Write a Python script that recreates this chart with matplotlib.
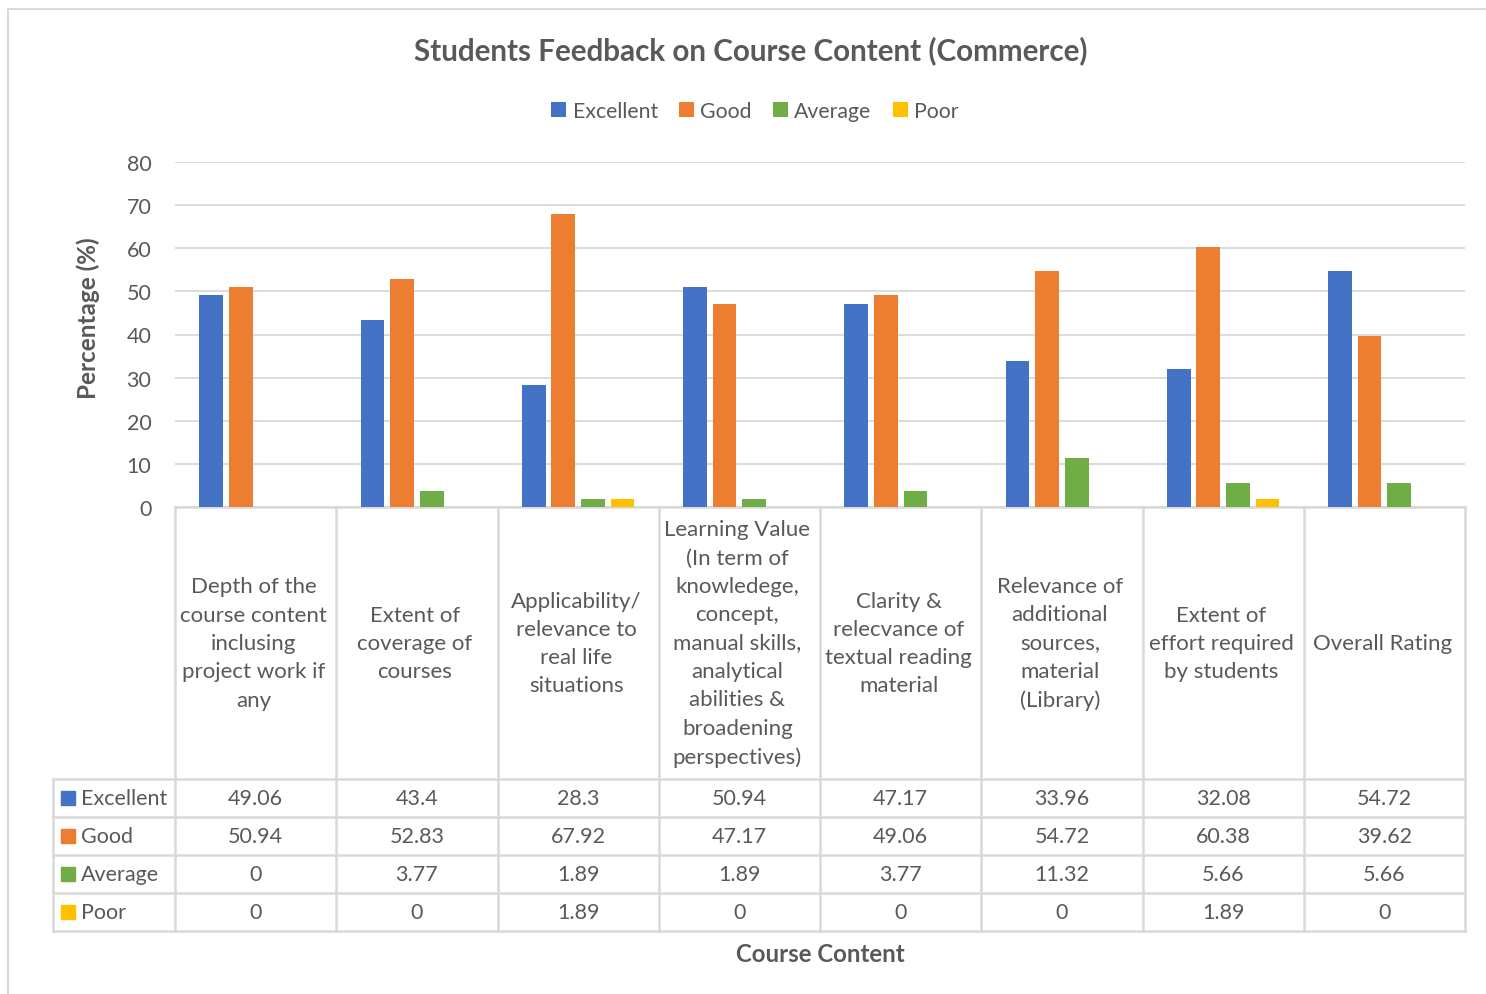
import numpy as np
import matplotlib
matplotlib.use("Agg")
import matplotlib.pyplot as plt
from matplotlib.patches import Rectangle

plt.rcParams["font.family"] = ["Lato", "DejaVu Sans"]

categories = [
    "Depth of the\ncourse content\ninclusing\nproject work if\nany",
    "Extent of\ncoverage of\ncourses",
    "Applicability/\nrelevance to\nreal life\nsituations",
    "Learning Value\n(In term of\nknowledege,\nconcept,\nmanual skills,\nanalytical\nabilities &\nbroadening\nperspectives)",
    "Clarity &\nrelecvance of\ntextual reading\nmaterial",
    "Relevance of\nadditional\nsources,\nmaterial\n(Library)",
    "Extent of\neffort required\nby students",
    "Overall Rating",
]
series_names = ["Excellent", "Good", "Average", "Poor"]
excellent = [49.06, 43.4, 28.3, 50.94, 47.17, 33.96, 32.08, 54.72]
good = [50.94, 52.83, 67.92, 47.17, 49.06, 54.72, 60.38, 39.62]
average = [0, 3.77, 1.89, 1.89, 3.77, 11.32, 5.66, 5.66]
poor = [0, 0, 1.89, 0, 0, 0, 1.89, 0]
series = [excellent, good, average, poor]
yticks = [0, 10, 20, 30, 40, 50, 60, 70, 80]

COLORS = ["#4472C4", "#ED7D31", "#70AD47", "#FFC000"]
TXT = "#595959"
GRID = "#D9D9D9"

W, H = 1486, 995
fig = plt.figure(figsize=(W / 100, H / 100), dpi=100)

# pixel layout
X0, X1 = 175, 1465          # plot area left/right
YTOP, Y0 = 163, 508         # y=80 and y=0
ROWS = [780, 818, 856, 894, 932]
LEFT = 53

# overlay axes in pixel coords for table + border
tab = fig.add_axes([0, 0, 1, 1])
tab.set_xlim(0, W); tab.set_ylim(H, 0); tab.axis("off")

ax = fig.add_axes([X0 / W, 1 - Y0 / H, (X1 - X0) / W, (Y0 - YTOP) / H])
ax.set_facecolor("none")

n = len(categories)
x = np.arange(n)
offsets = [-0.275, -0.092, 0.092, 0.275]
bw = 0.148
for vals, off, c, name in zip(series, offsets, COLORS, series_names):
    ax.bar(x + off, vals, bw, color=c, label=name, zorder=3)

ax.set_xlim(-0.5, n - 0.5)
ax.set_ylim(0, 80)
ax.set_yticks(yticks)
ax.set_yticklabels([str(t) for t in yticks], fontsize=15.5, color=TXT)
ax.set_xticks([])
ax.tick_params(axis="y", length=0, pad=17)
ax.grid(axis="y", color=GRID, lw=1.3, zorder=0)
for s in ax.spines.values():
    s.set_visible(False)

# table lines
cw = (X1 - X0) / n
lc = dict(color=GRID, lw=1.8)
tab.plot([X0, X1], [Y0, Y0], **lc)
for i in range(n + 1):
    tab.plot([X0 + i * cw] * 2, [Y0, ROWS[-1]], **lc)
tab.plot([LEFT, LEFT], [ROWS[0], ROWS[-1]], **lc)
for r in ROWS:
    tab.plot([LEFT, X1], [r, r], **lc)

for i, lab in enumerate(categories):
    tab.text(X0 + (i + 0.5) * cw - 2, (Y0 + ROWS[0]) / 2, lab, ha="center", va="center",
             fontsize=16, color=TXT, linespacing=1.52)

for j, (name, vals, c) in enumerate(zip(series_names, series, COLORS)):
    yc = (ROWS[j] + ROWS[j + 1]) / 2
    tab.add_patch(Rectangle((61, yc - 7), 14, 14, color=c))
    tab.text(81, yc, name, ha="left", va="center", fontsize=15.5, color=TXT)
    for i, v in enumerate(vals):
        tab.text(X0 + (i + 0.5) * cw, yc, f"{v:g}", ha="center", va="center",
                 fontsize=15.5, color=TXT)

# chart border
tab.plot([8, 8, W + 5], [H + 5, 10, 10], color=GRID, lw=1.5)

tab.text(751, 51, "Students Feedback on Course Content (Commerce)", ha="center",
         va="center", fontsize=21.3, fontweight="bold", color=TXT)
tab.text(88, 318, "Percentage (%)", ha="center", va="center", rotation=90,
         fontsize=17.5, fontweight="bold", color=TXT)
tab.text(820, 954, "Course Content", ha="center", va="center",
         fontsize=17.3, fontweight="bold", color=TXT)

leg = fig.legend(loc="center", bbox_to_anchor=(755 / W, 1 - 112 / H), ncol=4,
                 frameon=False, handlelength=0.7, handleheight=0.7,
                 handletextpad=0.3, columnspacing=1.0, fontsize=15.3)
for t in leg.get_texts():
    t.set_color(TXT)

fig.savefig("out.png", dpi=100, facecolor="white")
